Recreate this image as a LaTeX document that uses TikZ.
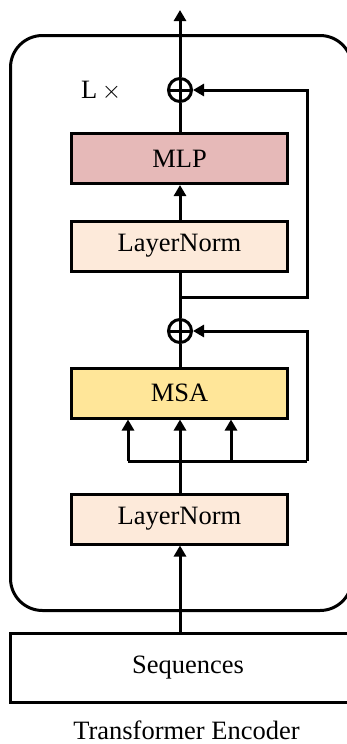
\documentclass[tikz,border=0pt]{standalone}
\usepackage{fontspec}
\setmainfont{Liberation Serif}
\usetikzlibrary{arrows.meta}
\definecolor{mlpfill}{RGB}{230,185,184}
\definecolor{lnfill}{RGB}{253,234,218}
\definecolor{msafill}{RGB}{255,230,153}
\begin{document}
\begin{tikzpicture}[x=1pt,y=-1pt,
  every node/.style={font=\fontsize{26.5}{30}\selectfont},
  blk/.style={draw=black,line width=3pt,minimum width=216pt,minimum height=50pt,inner sep=0pt},
  conn/.style={line width=3pt},
  arr/.style={line width=3pt,-{Triangle[length=11pt,width=12pt]}},
  plusnode/.style={circle,draw=black,line width=3pt,minimum size=23pt,inner sep=0pt,
    path picture={\draw[line width=3pt] (path picture bounding box.north) -- (path picture bounding box.south)
      (path picture bounding box.west) -- (path picture bounding box.east);}}]
\useasboundingbox (0,0) rectangle (347,744);
% outer rounded frame
\draw[line width=3pt,rounded corners=32pt] (10.5,35.5) rectangle (352,610.5);
% blocks
\node[blk,fill=mlpfill] (mlp) at (179.5,158.5) {MLP};
\node[blk,fill=lnfill] (ln1) at (179.5,246) {LayerNorm};
\node[blk,fill=msafill] (msa) at (179.5,393) {MSA};
\node[blk,fill=lnfill] (ln2) at (179.5,519) {LayerNorm};
\node[draw=black,line width=3pt,minimum width=356pt,minimum height=69pt,inner sep=0pt] (seq) at (188,668) {Sequences};
\node[plusnode] (p1) at (180,90) {};
\node[plusnode] (p2) at (180,331) {};
\node[anchor=base west,inner sep=0pt] (lx) at (81,98) {L\,$\times$};
\node[anchor=base,inner sep=0pt] (title) at (186.5,739) {Transformer Encoder};
% coordinates
\coordinate (top) at (180,10);
\coordinate (j1) at (180,297);
\coordinate (r1) at (307,297);
\coordinate (r2) at (307,461);
\coordinate (a1) at (128,461);
\coordinate (a3) at (231,461);
\coordinate (sin) at (180,632);
% connectors
\draw[arr] (p1.north) -- (top);
\draw[conn] (mlp.north -| p1) -- (p1.south);
\draw[arr] (ln1.north -| p1) -- (mlp.south -| p1);
\draw[conn] (ln1.south -| p1) -- (p2.north);
\draw[arr] (j1) -- (r1) |- (p1.east);
\draw[conn] (msa.north -| p2) -- (p2.south);
\draw[conn] (a1) -- (r2);
\draw[arr] (r2) |- (p2.east);
\draw[arr] (ln2.north -| p2) -- (msa.south -| p2);
\draw[arr] (a1) -- (msa.south -| a1);
\draw[arr] (a3) -- (msa.south -| a3);
\draw[arr] (sin) -- (ln2.south -| sin);
\end{tikzpicture}
\end{document}
